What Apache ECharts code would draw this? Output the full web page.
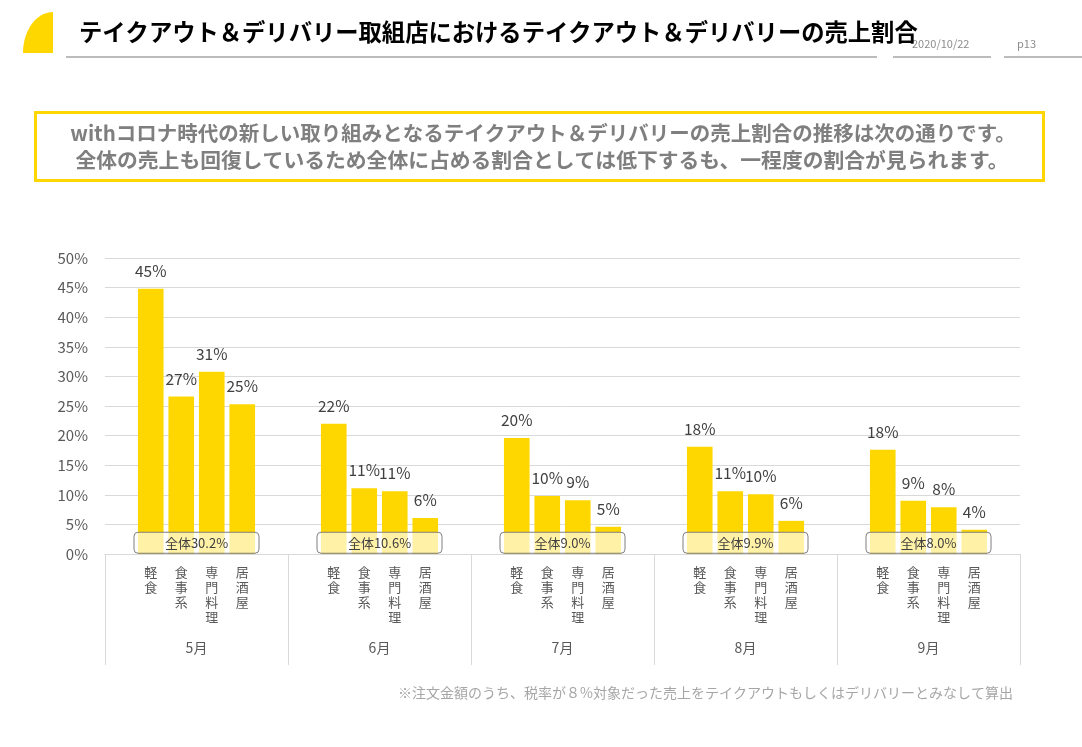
<!DOCTYPE html>
<html>
<head>
<meta charset="utf-8">
<script src="https://cdn.jsdelivr.net/npm/echarts@6/dist/echarts.min.js"></script>
<style>
html,body{margin:0;padding:0;background:#fff;}
#chart{width:1082px;height:747px;}
</style>
</head>
<body>
<div id="chart"></div>
<script>
const months = ['5月', '6月', '7月', '8月', '9月'];
const genres = ['軽食', '食事系', '専門料理', '居酒屋'];
const shareMay = [44.8, 26.6, 30.8, 25.3];
const shareJun = [22.0, 11.1, 10.6, 6.1];
const shareJul = [19.6, 9.8, 9.1, 4.6];
const shareAug = [18.1, 10.6, 10.1, 5.6];
const shareSep = [17.6, 9.0, 7.9, 4.1];
const totals = [30.2, 10.6, 9.0, 9.9, 8.0];
const yTicks = [0, 5, 10, 15, 20, 25, 30, 35, 40, 45, 50];

const groups = [shareMay, shareJun, shareJul, shareAug, shareSep];
const FONT = '"Noto Sans CJK JP", "Noto Sans", sans-serif';

// Build slot axis: each month = blank, 4 genres, blank
const slotCats = [];
const slotVals = [];
groups.forEach(function (g) {
  slotCats.push('');
  slotVals.push('-');
  g.forEach(function (v, i) {
    slotCats.push(genres[i].split('').join('\n'));
    slotVals.push(v);
  });
  slotCats.push(' ');
  slotVals.push('-');
});

// decorative quarter-ellipse logo
const logoPts = [[53, 53]];
for (let k = 0; k <= 20; k++) {
  const a = Math.PI + (Math.PI / 2) * (k / 20);
  logoPts.push([53 + 30 * Math.cos(a), 53 + 41 * Math.sin(a)]);
}

const chart = echarts.init(document.getElementById('chart'), null, {renderer: 'canvas'});

const option = {
  backgroundColor: '#ffffff',
  animation: false,
  textStyle: {fontFamily: FONT},
  grid: {left: 105, right: 62, top: 258, bottom: 193, containLabel: false},
  xAxis: [
    {
      type: 'category',
      data: slotCats,
      boundaryGap: true,
      axisLine: {show: true, lineStyle: {color: '#d9d9d9', width: 1}},
      axisTick: {show: false},
      axisLabel: {
        interval: 0, margin: 11, fontSize: 13, lineHeight: 15,
        color: '#595959', fontFamily: FONT, verticalAlign: 'top'
      }
    },
    {
      type: 'category',
      data: months,
      position: 'bottom',
      boundaryGap: true,
      axisLine: {show: false},
      axisTick: {show: true, length: 111, lineStyle: {color: '#d9d9d9', width: 1}},
      axisLabel: {margin: 87, fontSize: 14, color: '#595959', fontFamily: FONT}
    }
  ],
  yAxis: {
    type: 'value',
    min: yTicks[0],
    max: yTicks[yTicks.length - 1],
    interval: yTicks[1] - yTicks[0],
    axisLine: {show: false},
    axisTick: {show: false},
    splitLine: {lineStyle: {color: '#d9d9d9', width: 1}},
    axisLabel: {
      formatter: '{value}%', fontSize: 15, color: '#595959', margin: 17, fontFamily: FONT
    }
  },
  series: [
    {
      type: 'bar',
      xAxisIndex: 0,
      data: slotVals,
      barWidth: '84%',
      itemStyle: {color: '#FFD700'},
      label: {
        show: true, position: 'top', distance: 10, fontSize: 15.5, color: '#404040',
        fontFamily: FONT,
        formatter: function (p) { return Math.round(p.value) + '%'; }
      },
      z: 2
    },
    {
      type: 'custom',
      xAxisIndex: 1,
      yAxisIndex: 0,
      data: totals.map(function (t, i) { return [i, 1.9, t]; }),
      renderItem: function (params, api) {
        const c = api.coord([api.value(0), api.value(1)]);
        const w = 125, h = 21;
        return {
          type: 'group',
          children: [
            {
              type: 'rect',
              shape: {x: c[0] - w / 2, y: c[1] - h / 2, width: w, height: h, r: 4},
              style: {fill: 'rgba(255,255,255,0.65)', stroke: '#7f7f7f', lineWidth: 1}
            },
            {
              type: 'text',
              style: {
                text: '全体' + api.value(2).toFixed(1) + '%',
                x: c[0], y: c[1] + 0.5, align: 'center', verticalAlign: 'middle',
                font: '13px ' + FONT, fill: '#404040'
              }
            }
          ]
        };
      },
      z: 5
    }
  ],
  graphic: [
    {
      type: 'polygon',
      shape: {points: logoPts},
      style: {fill: '#FFD700'}
    },
    {
      type: 'text', x: 912, y: 38, z: 1,
      style: {text: '2020/10/22', font: '11px ' + FONT, fill: '#8c8c8c'}
    },
    {
      type: 'text', x: 79, y: 21, z: 2,
      style: {text: 'テイクアウト＆デリバリー取組店におけるテイクアウト＆デリバリーの売上割合',
        font: 'bold 23.3px ' + FONT, fill: '#000000'}
    },
    {type: 'line', shape: {x1: 66, y1: 57, x2: 877, y2: 57}, style: {stroke: '#a6a6a6', lineWidth: 1.5}},
    {type: 'line', shape: {x1: 893, y1: 57, x2: 991, y2: 57}, style: {stroke: '#a6a6a6', lineWidth: 1.5}},
    {type: 'line', shape: {x1: 1004, y1: 57, x2: 1082, y2: 57}, style: {stroke: '#a6a6a6', lineWidth: 1.5}},
    {
      type: 'text', x: 1017, y: 38,
      style: {text: 'p13', font: '11px ' + FONT, fill: '#8c8c8c'}
    },
    {
      type: 'rect',
      shape: {x: 35.5, y: 112.5, width: 1008, height: 68},
      style: {fill: '#ffffff', stroke: '#FFD700', lineWidth: 3}
    },
    {
      type: 'text', x: 543, y: 133,
      style: {text: 'withコロナ時代の新しい取り組みとなるテイクアウト＆デリバリーの売上割合の推移は次の通りです。',
        font: 'bold 20.5px ' + FONT, fill: '#7f7f7f', align: 'center', verticalAlign: 'middle'}
    },
    {
      type: 'text', x: 542, y: 160,
      style: {text: '全体の売上も回復しているため全体に占める割合としては低下するも、一程度の割合が見られます。',
        font: 'bold 20.8px ' + FONT, fill: '#7f7f7f', align: 'center', verticalAlign: 'middle'}
    },
    {
      type: 'text', x: 1013, y: 693,
      style: {text: '※注文金額のうち、税率が８%対象だった売上をテイクアウトもしくはデリバリーとみなして算出',
        font: '14px ' + FONT, fill: '#a6a6a6', align: 'right', verticalAlign: 'middle'}
    }
  ]
};
chart.setOption(option);
</script>
</body>
</html>
